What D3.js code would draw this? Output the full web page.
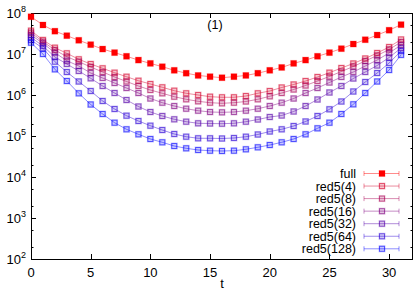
<!DOCTYPE html>
<html>
<head>
<meta charset="utf-8">
<script src="https://cdn.jsdelivr.net/npm/d3@7"></script>
<style>
  body { margin: 0; background: #fff; }
  text { font-family: "Liberation Sans", Arial, sans-serif; }
</style>
</head>
<body>
<script>
// time slices
const ts = d3.range(0, 32);

// correlator values
const full = [8.1e7, 5.1e7, 3.6e7, 2.8e7, 2.16e7, 1.69e7, 1.32e7, 1.08e7, 8.8e6, 7.1e6, 5.9e6, 4.9e6, 4.0e6, 3.4e6, 3.0e6, 2.8e6,
  2.64e6, 2.8e6, 3.0e6, 3.4e6, 4.0e6, 4.7e6, 5.9e6, 7.1e6, 8.8e6, 1.08e7, 1.35e7, 1.75e7, 2.23e7, 2.9e7, 3.8e7, 5.2e7];
const red4 = [3.7e7, 2.2e7, 1.425e7, 1.04e7, 7.43e6, 5.7e6, 4.48e6, 3.5e6, 2.79e6, 2.23e6, 1.855e6, 1.54e6, 1.273e6, 1.1e6, 1.0e6, 9.09e5,
  8.79e5, 8.8e5, 9.45e5, 1.1e6, 1.252e6, 1.524e6, 1.804e6, 2.195e6, 2.75e6, 3.5e6, 4.555e6, 5.87e6, 7.77e6, 1.058e7, 1.48e7, 2.26e7];
const red8 = [3.31e7, 2.0e7, 1.252e7, 8.59e6, 6.49e6, 4.82e6, 3.64e6, 2.75e6, 2.135e6, 1.658e6, 1.324e6, 1.1e6, 9.09e5, 7.86e5, 7.02e5, 6.49e5,
  6.27e5, 6.49e5, 6.94e5, 7.86e5, 9.3e5, 1.119e6, 1.362e6, 1.705e6, 2.195e6, 2.83e6, 3.74e6, 4.96e6, 6.75e6, 9.19e6, 1.288e7, 1.962e7];
const red16 = [2.906e7, 1.824e7, 1.076e7, 6.86e6, 5.1e6, 3.44e6, 2.6e6, 1.962e6, 1.48e6, 1.119e6, 8.21e5, 6.49e5, 5.39e5, 4.63e5, 4.14e5, 3.85e5,
  3.78e5, 3.85e5, 4.14e5, 4.63e5, 5.39e5, 6.49e5, 8.21e5, 1.119e6, 1.48e6, 2.017e6, 2.75e6, 3.64e6, 5.1e6, 7.14e6, 1.058e7, 1.658e7];
const red32 = [2.555e7, 1.567e7, 8.45e6, 5.7e6, 3.85e6, 2.555e6, 1.658e6, 1.119e6, 7.55e5, 5.24e5, 3.85e5, 3.075e5, 2.555e5, 2.233e5, 2.04e5, 2.017e5,
  1.995e5, 2.04e5, 2.233e5, 2.526e5, 2.906e5, 3.16e5, 3.96e5, 5.39e5, 7.77e5, 1.151e6, 1.658e6, 2.526e6, 3.64e6, 5.24e6, 8.21e6, 1.4e7];
const red64 = [2.195e7, 1.377e7, 6.49e6, 3.64e6, 2.135e6, 1.252e6, 7.14e5, 4.555e5, 3.127e5, 2.322e5, 1.783e5, 1.4e5, 1.119e5, 9.61e4, 8.79e4, 8.79e4,
  8.69e4, 8.94e4, 9.61e4, 1.088e5, 1.288e5, 1.457e5, 1.753e5, 2.258e5, 3.075e5, 4.48e5, 6.94e5, 1.217e6, 2.076e6, 3.44e6, 6.03e6, 1.184e7];
const red128 = [1.886e7, 1.0e7, 4.23e6, 2.195e6, 1.1e6, 5.87e5, 3.44e5, 2.11e5, 1.457e5, 1.1e5, 8.45e4, 7.02e4, 5.7e4, 5.01e4, 4.555e4, 4.38e4,
  4.31e4, 4.38e4, 4.74e4, 5.3e4, 6.03e4, 7.02e4, 8.45e4, 1.1e5, 1.54e5, 2.11e5, 3.44e5, 5.93e5, 1.119e6, 2.135e6, 4.07e6, 9.5e6];

const names = ["full", "red5(4)", "red5(8)", "red5(16)", "red5(32)", "red5(64)", "red5(128)"];
const colors = ["#ff0000", "#d5002b", "#aa0055", "#800080", "#5500aa", "#2b00d5", "#0000ff"];
const allSeries = [full, red4, red8, red16, red32, red64, red128];

const xTicks = [0, 5, 10, 15, 20, 25, 30];
const yExps = [2, 3, 4, 5, 6, 7, 8];

const W = 415, H = 291;
const margin = { top: 13, right: 2, bottom: 32, left: 31 };

const svg = d3.select("body").append("svg")
  .attr("width", W).attr("height", H);

const x = d3.scaleLinear().domain([0, 32]).range([margin.left, W - margin.right]);
const y = d3.scaleLog().domain([1e2, 1e8]).range([H - margin.bottom, margin.top]);

const x0 = x.range()[0], x1 = x.range()[1];
const y0 = y.range()[0], y1 = y.range()[1];

// ticks, all inward and mirrored
const axes = svg.append("g").attr("stroke", "#000").attr("stroke-width", 1);
xTicks.forEach(v => {
  const px = Math.round(x(v)) + 0.5;
  axes.append("line").attr("x1", px).attr("x2", px).attr("y1", y0).attr("y2", y0 - 5);
  axes.append("line").attr("x1", px).attr("x2", px).attr("y1", y1).attr("y2", y1 + 5);
});
yExps.forEach(e => {
  [1, 2, 5].forEach(m => {
    const v = m * Math.pow(10, e);
    if (v > 1e8) return;
    const py = Math.round(y(v)) + 0.5;
    const len = m === 1 ? 5 : 2.5;
    axes.append("line").attr("x1", x0).attr("x2", x0 + len).attr("y1", py).attr("y2", py);
    axes.append("line").attr("x1", x1).attr("x2", x1 - len).attr("y1", py).attr("y2", py);
  });
});
svg.append("rect")
  .attr("x", x0 + 0.5).attr("y", y1 + 0.5)
  .attr("width", x1 - x0 - 1).attr("height", y0 - y1)
  .attr("fill", "none").attr("stroke", "#000").attr("stroke-width", 1);

// tick labels
svg.append("g").selectAll("text").data(xTicks).join("text")
  .attr("x", d => x(d)).attr("y", 277)
  .attr("text-anchor", "middle").attr("font-size", 13)
  .text(d => d);

const yl = svg.append("g").selectAll("text").data(yExps).join("text")
  .attr("x", 26).attr("y", d => y(Math.pow(10, d)) + 5)
  .attr("text-anchor", "end").attr("font-size", 13);
yl.append("tspan").text("10");
yl.append("tspan").attr("font-size", 9).attr("dy", -6).text(d => d);

svg.append("text").attr("x", x(16)).attr("y", 288)
  .attr("text-anchor", "middle").attr("font-size", 13).text("t");
svg.append("text").attr("x", 215).attr("y", 29)
  .attr("text-anchor", "middle").attr("font-size", 12.5).text("(1)");

// lines, halos and markers
const line = d3.line().x((d, i) => x(ts[i])).y(d => y(d));

allSeries.forEach((s, k) => {
  const c = colors[k];
  const g = svg.append("g");
  g.append("path").attr("d", line(s))
    .attr("fill", "none").attr("stroke", c).attr("stroke-opacity", 0.45).attr("stroke-width", 1);
  g.selectAll("rect.halo").data(s).join("rect").attr("class", "halo")
    .attr("x", (d, i) => x(ts[i]) - 3.5).attr("y", d => y(d) - 3.5)
    .attr("width", 7).attr("height", 7)
    .attr("fill", c).attr("fill-opacity", 0.22);
  if (k === 0) {
    g.selectAll("rect.mk").data(s).join("rect").attr("class", "mk")
      .attr("x", (d, i) => x(ts[i]) - 3).attr("y", d => y(d) - 3)
      .attr("width", 6).attr("height", 6).attr("fill", c);
  } else {
    g.selectAll("rect.mk").data(s).join("rect").attr("class", "mk")
      .attr("x", (d, i) => x(ts[i]) - 2.5).attr("y", d => y(d) - 2.5)
      .attr("width", 5).attr("height", 5)
      .attr("fill", "none").attr("stroke", c).attr("stroke-opacity", 0.6).attr("stroke-width", 1);
  }
});

// legend
const leg = svg.append("g");
names.forEach((n, k) => {
  const ly = 173.5 + k * 12.55;
  const c = colors[k];
  leg.append("text").attr("x", 356).attr("y", ly + 4.5)
    .attr("text-anchor", "end").attr("font-size", 12.5).text(n);
  const lg = leg.append("g").attr("stroke", c).attr("stroke-opacity", 0.45);
  lg.append("line").attr("x1", 364).attr("x2", 399).attr("y1", ly).attr("y2", ly);
  lg.append("line").attr("x1", 364).attr("x2", 364).attr("y1", ly - 2.5).attr("y2", ly + 2.5);
  lg.append("line").attr("x1", 399).attr("x2", 399).attr("y1", ly - 2.5).attr("y2", ly + 2.5);
  leg.append("rect").attr("x", 378.5).attr("y", ly - 3.5).attr("width", 7).attr("height", 7)
    .attr("fill", c).attr("fill-opacity", 0.22);
  if (k === 0) {
    leg.append("rect").attr("x", 379).attr("y", ly - 3).attr("width", 6).attr("height", 6).attr("fill", c);
  } else {
    leg.append("rect").attr("x", 379.5).attr("y", ly - 2.5).attr("width", 5).attr("height", 5)
      .attr("fill", "none").attr("stroke", c).attr("stroke-opacity", 0.6);
  }
});
</script>
</body>
</html>
